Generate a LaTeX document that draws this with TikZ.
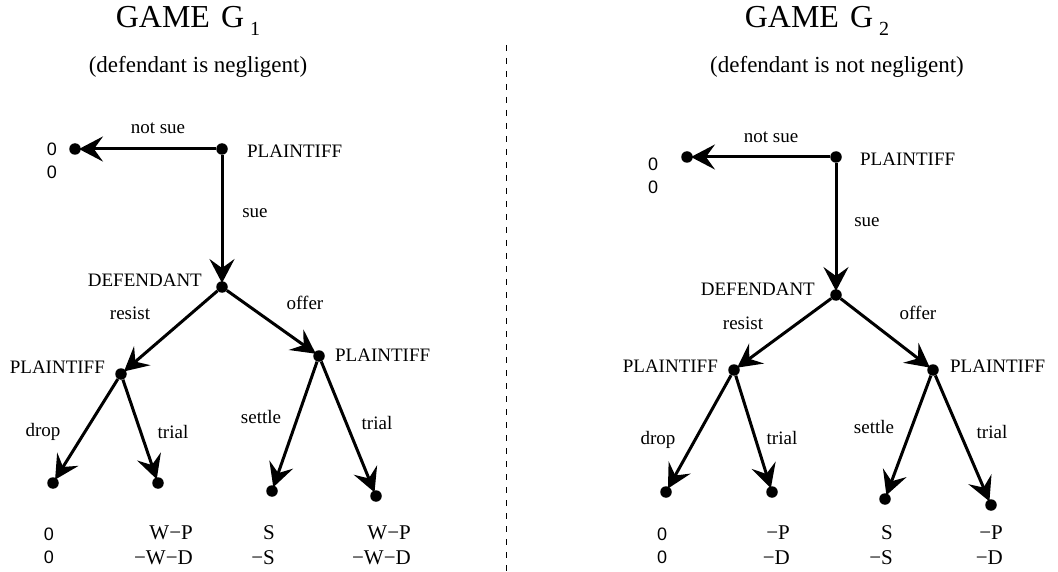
\documentclass[tikz,border=0pt]{standalone}
\usepackage{fontspec}
\setmainfont{Liberation Serif}
\setsansfont{Liberation Sans}
\usepackage{tikz}
\usetikzlibrary{positioning,arrows.meta}

\newcommand{\gametitle}[1]{GAME\hspace{11pt}G\raisebox{-8pt}{\fontsize{20}{20}\selectfont\hspace{6pt}#1}}

\begin{document}
\begin{tikzpicture}[
  x=1pt, y=-1pt,
  dot/.style={circle, fill=black, inner sep=0pt, minimum size=11.5pt},
  player/.style={font=\fontsize{19}{22}\selectfont, inner sep=0pt},
  act/.style={font=\fontsize{19}{22}\selectfont, inner sep=0pt},
  title/.style={font=\fontsize{32}{34}\selectfont, inner sep=0pt},
  sub/.style={font=\fontsize{23}{27}\selectfont, inner sep=0pt},
  pay/.style={font=\fontsize{21}{25}\selectfont, align=right, inner sep=0pt, anchor=east},
  zero/.style={font=\sffamily\fontsize{18}{23}\selectfont, align=center, inner sep=0pt},
  move/.style={line width=3pt, shorten >=-2pt, -{Stealth[length=24pt, width=25pt, inset=9pt]}},
  divider/.style={line width=0.8pt, dash pattern=on 6pt off 7pt}]
\useasboundingbox (0,0) rectangle (1058,572);

% game G1
\node[title] (t1) at (188,21) {\gametitle{1}};
\node[sub] (s1) at (198,67) {(defendant is negligent)};
\node[dot] (r1) at (222,149) {};
\node[dot] (z1) at (75,149) {};
\node[dot] (d1) at (222,287) {};
\node[dot] (a1) at (121,374) {};
\node[dot] (b1) at (319,356) {};
\node[dot] (l11) at (53,483) {};
\node[dot] (l12) at (158,483) {};
\node[dot] (l13) at (272,491) {};
\node[dot] (l14) at (376,496) {};
\node[player, right=19pt of r1, yshift=-2pt] (pr1) {PLAINTIFF};
\node[player, left=14pt of d1, yshift=7pt] (pd1) {DEFENDANT};
\node[player, left=10pt of a1, yshift=7pt] (pa1) {PLAINTIFF};
\node[player, right=10pt of b1, yshift=1pt] (pb1) {PLAINTIFF};
\node[act] (ns1) at (158,128) {not sue};
\node[act] (su1) at (255,213) {sue};
\node[act] (re1) at (130,313) {resist};
\node[act] (of1) at (305,303) {offer};
\node[act] (dr1) at (43,432) {drop};
\node[act] (tr1) at (173,432) {trial};
\node[act] (se1) at (261,417) {settle};
\node[act] (tt1) at (377,423) {trial};
\node[zero] (zp1) at (52,161) {0\\0};
\node[zero] (o11) at (49,545.5) {0\\0};
\node[pay] (o12) at (193,545.5) {W−P\\−W−D};
\node[pay] (o13) at (275,545.5) {S\\−S};
\node[pay] (o14) at (411,545.5) {W−P\\−W−D};
\draw[move] (r1) -- (z1);
\draw[move] (r1) -- (d1);
\draw[move] (d1) -- (a1);
\draw[move] (d1) -- (b1);
\draw[move] (a1) -- (l11);
\draw[move] (a1) -- (l12);
\draw[move] (b1) -- (l13);
\draw[move] (b1) -- (l14);

% divider
\coordinate (vtop) at (506,45);
\coordinate (vbot) at (506,572);
\draw[divider] (vtop) -- (vbot);

% game G2
\node[title] (t2) at (817,21) {\gametitle{2}};
\node[sub] (s2) at (837,67) {(defendant is not negligent)};
\node[dot] (r2) at (836,157) {};
\node[dot] (z2) at (687,157) {};
\node[dot] (d2) at (836,295) {};
\node[dot] (a2) at (734,370) {};
\node[dot] (b2) at (933,370) {};
\node[dot] (l21) at (666,492) {};
\node[dot] (l22) at (772,492) {};
\node[dot] (l23) at (885,499) {};
\node[dot] (l24) at (991,505) {};
\node[player, right=18pt of r2, yshift=-2pt] (pr2) {PLAINTIFF};
\node[player, left=15pt of d2, yshift=6pt] (pd2) {DEFENDANT};
\node[player, left=10pt of a2, yshift=4pt] (pa2) {PLAINTIFF};
\node[player, right=11pt of b2, yshift=4pt] (pb2) {PLAINTIFF};
\node[act] (ns2) at (771,137) {not sue};
\node[act] (su2) at (867,222) {sue};
\node[act] (re2) at (743,323) {resist};
\node[act] (of2) at (918,313) {offer};
\node[act] (dr2) at (658,440) {drop};
\node[act] (tr2) at (782,438) {trial};
\node[act] (se2) at (874,427) {settle};
\node[act] (tt2) at (992,432) {trial};
\node[zero] (zp2) at (653,176) {0\\0};
\node[zero] (o21) at (662,545.5) {0\\0};
\node[pay] (o22) at (790,545.5) {−P\\−D};
\node[pay] (o23) at (893,545.5) {S\\−S};
\node[pay] (o24) at (1003,545.5) {−P\\−D};
\draw[move] (r2) -- (z2);
\draw[move] (r2) -- (d2);
\draw[move] (d2) -- (a2);
\draw[move] (d2) -- (b2);
\draw[move] (a2) -- (l21);
\draw[move] (a2) -- (l22);
\draw[move] (b2) -- (l23);
\draw[move] (b2) -- (l24);
\end{tikzpicture}
\end{document}
